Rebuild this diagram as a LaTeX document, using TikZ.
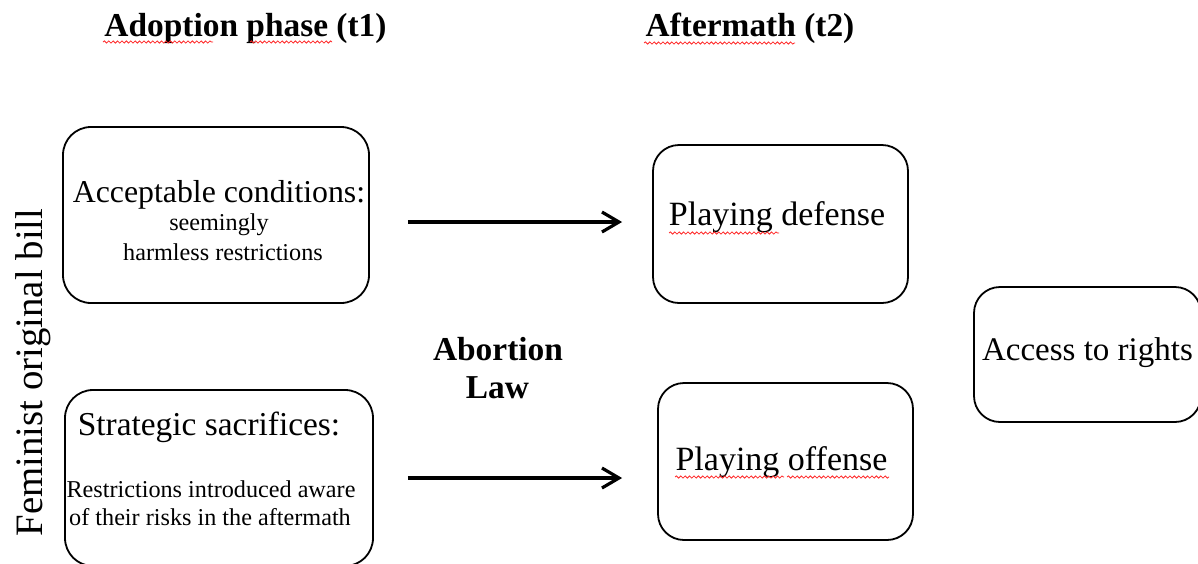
\documentclass[tikz,border=0pt]{standalone}
\usepackage{fontspec}
\setmainfont{Liberation Serif}
\usetikzlibrary{arrows.meta,decorations.pathmorphing}
\begin{document}
\begin{tikzpicture}[x=0.5pt,y=-0.5pt,
  box/.style={draw, line width=0.9pt, rounded corners=#1, inner sep=0pt},
  box/.default=13pt,
  txt/.style={anchor=base, inner sep=0pt},
  arr/.style={line width=1.6pt, -{Straight Barb[length=8.5pt,width=10pt]}},
  squig/.style={draw=red!85!white, line width=0.4pt, decorate,
    decoration={snake, amplitude=0.55pt, segment length=2.2pt}}]
\useasboundingbox (0,0) rectangle (1198,563);
\clip (0,0) rectangle (1198,563);
\fill[white] (0,0) rectangle (1198,563);

% column titles
\node[txt, font=\fontsize{16.7pt}{18pt}\bfseries] (t1) at (245.5,36) {Adoption phase (t1)};
\node[txt, font=\fontsize{16.7pt}{18pt}\bfseries] (t2) at (750,36) {Aftermath (t2)};
\draw[squig] (103,42) -- (213,42);
\draw[squig] (250,42) -- (332,42);
\draw[squig] (644,43) -- (795,43);

% side label
\node[txt, rotate=90, font=\fontsize{19.4pt}{22pt}\selectfont] (fem) at (42,372.5) {Feminist original bill};

% boxes
\node[box=14pt, minimum width=153pt, minimum height=88pt] (A) at (216,215) {};
\node[box=14pt, minimum width=154pt, minimum height=88pt] (S) at (219,478) {};
\node[box, minimum width=127.5pt, minimum height=79pt] (D) at (780.5,224) {};
\node[box, minimum width=127.5pt, minimum height=78.5pt] (O) at (785.5,461.5) {};
\node[box, minimum width=113.5pt, minimum height=67.5pt] (R) at (1087.5,354.5) {};

% box texts
\node[txt, font=\fontsize{15.9pt}{18pt}\selectfont] (a1) at (219,202) {Acceptable conditions:};
\node[txt, font=\fontsize{12.1pt}{14pt}\selectfont] (a2) at (219,230) {seemingly};
\node[txt, font=\fontsize{12.1pt}{14pt}\selectfont] (a3) at (223,260) {harmless restrictions};

\node[txt, font=\fontsize{16.7pt}{18pt}\selectfont] (s1) at (209,435) {Strategic sacrifices:};
\node[txt, font=\fontsize{12.1pt}{14pt}\selectfont] (s2) at (211,497) {Restrictions introduced aware};
\node[txt, font=\fontsize{12.1pt}{14pt}\selectfont] (s3) at (210,525) {of their risks in the aftermath};

\node[txt, font=\fontsize{17pt}{19pt}\selectfont] (d1) at (777,225) {Playing defense};
\draw[squig] (669,233) -- (779,233);
\node[txt, font=\fontsize{17pt}{19pt}\selectfont] (o1) at (781.5,470) {Playing offense};
\draw[squig] (675,477) -- (784,477);
\draw[squig] (787,477) -- (889,477);

\node[txt, font=\fontsize{16.5pt}{18pt}\selectfont] (r1) at (1087.5,360) {Access to rights};

% centre label
\node[txt, font=\fontsize{16.7pt}{18pt}\bfseries] (ab1) at (498,360) {Abortion};
\node[txt, font=\fontsize{16.7pt}{18pt}\bfseries] (ab2) at (497.5,398) {Law};

% arrows
\draw[arr, shorten <=19pt, shorten >=15pt] (A.east |- 0,222) -- (D.west |- 0,222);
\draw[arr, shorten <=17pt, shorten >=17.5pt] (S.east) -- (S.east -| O.west);
\end{tikzpicture}
\end{document}
